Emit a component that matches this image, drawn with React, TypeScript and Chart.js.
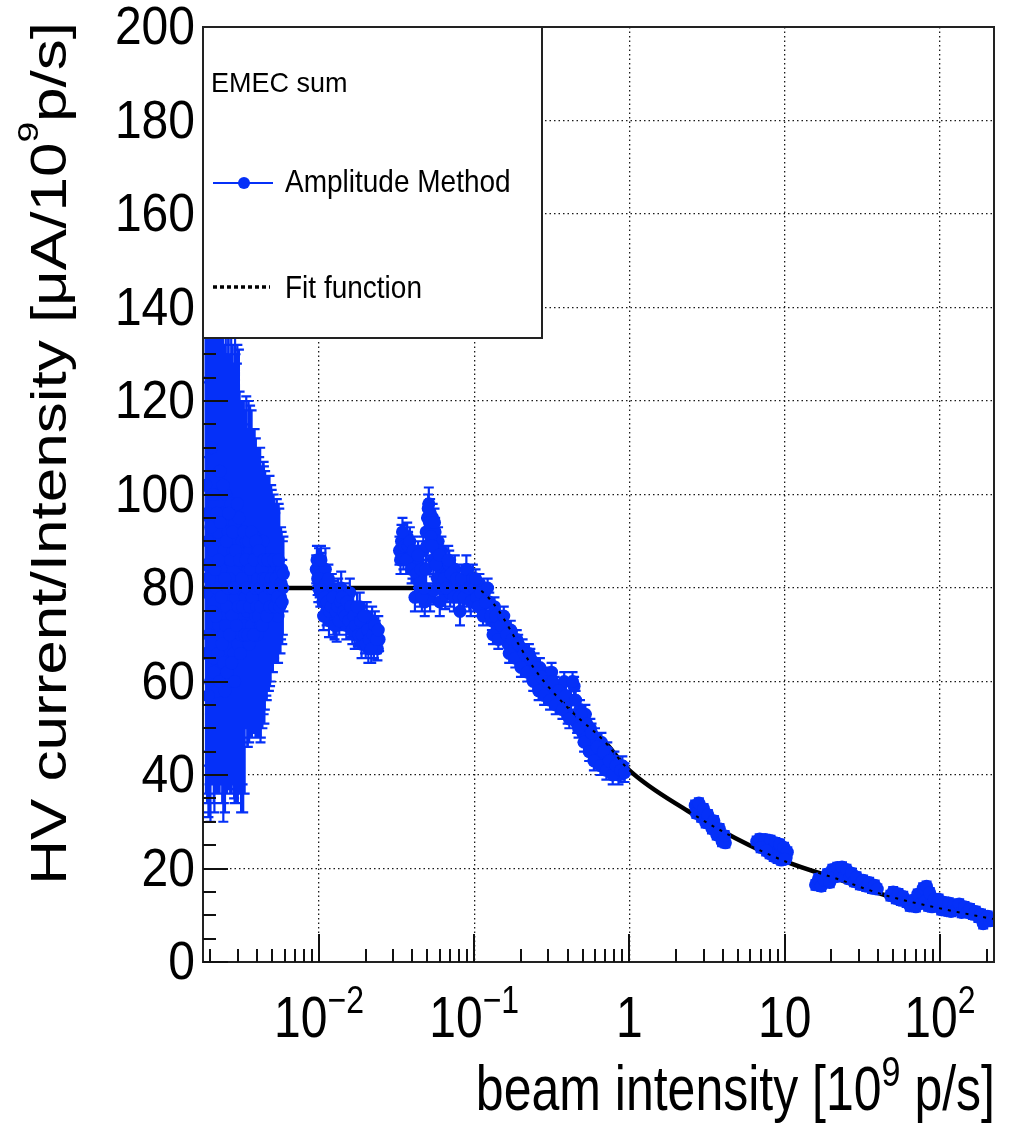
import React, { useEffect, useRef } from 'react';
import { Chart, registerables } from 'chart.js';

Chart.register(...registerables);

const FONT = '"Liberation Sans", Arial, Helvetica, sans-serif';
const W = 1009;
const H = 1124;
const BLUE = '#0530f8';

// Axis ranges and ticks
const X_MIN = 0.00179;
const X_MAX = 223;
const Y_MIN = 0;
const Y_MAX = 200;
const yMajorTicks = [0, 20, 40, 60, 80, 100, 120, 140, 160, 180, 200];
const yMinorStep = 5;
const xDecades = [0.01, 0.1, 1, 10, 100];
const xDecadeLabels: [string, string][] = [['10', '\u22122'], ['10', '\u22121'], ['1', ''], ['10', ''], ['10', '2']];
const xMinorDecades = [0.001, 0.01, 0.1, 1, 10, 100];
const xMinorMultipliers = [2, 3, 4, 5, 6, 7, 8, 9];

// Data: [beam intensity (1e9 p/s), HV current / intensity, error]
const lowIntensityRun: [number, number, number][] = [
  [0.00186, 102, 35], [0.00188, 85, 40], [0.0019, 79, 45], [0.00192, 90, 48], [0.00195, 70, 38],
  [0.00198, 95, 42], [0.002, 60, 30], [0.00203, 110, 30], [0.00206, 75, 35], [0.00209, 88, 46],
  [0.00212, 65, 33], [0.00215, 100, 38], [0.00218, 80, 42], [0.00221, 58, 20], [0.00224, 92, 44],
  [0.00227, 72, 34], [0.0023, 105, 32], [0.00233, 84, 40], [0.00236, 63, 25], [0.00239, 96, 40],
  [0.00242, 70, 40], [0.00245, 88, 44], [0.00248, 58, 26], [0.00251, 100, 36], [0.00254, 76, 38],
  [0.00257, 67, 30], [0.0026, 92, 42], [0.00264, 82, 45], [0.00268, 60, 24], [0.00272, 98, 36],
  [0.00276, 74, 36], [0.0028, 88, 40], [0.00284, 66, 31], [0.00288, 94, 40], [0.00292, 78, 44],
  [0.00296, 86, 42], [0.003, 68, 34], [0.00305, 95, 36], [0.0031, 80, 40], [0.00315, 70, 38],
  [0.0032, 90, 30], [0.00325, 72, 40], [0.0033, 85, 30], [0.00335, 78, 28], [0.0034, 90, 31],
  [0.00345, 75, 29], [0.0035, 84, 30], [0.00355, 68, 21], [0.0036, 88, 31], [0.00365, 80, 28],
  [0.0037, 72, 24], [0.00375, 86, 28], [0.0038, 79, 30], [0.00385, 91, 23], [0.0039, 74, 26],
  [0.00395, 84, 26], [0.004, 70, 22], [0.00405, 88, 22], [0.0041, 78, 28], [0.00415, 83, 24],
  [0.0042, 72, 25], [0.00425, 86, 20], [0.0043, 76, 26], [0.00435, 90, 17], [0.0044, 80, 27],
  [0.00445, 74, 23], [0.0045, 85, 20], [0.00458, 78, 21], [0.00465, 82, 22], [0.00472, 75, 17],
  [0.0048, 84, 20], [0.00488, 79, 19], [0.00496, 86, 15], [0.00505, 76, 14], [0.00515, 82, 17],
  [0.00525, 80, 16], [0.00535, 85, 14], [0.00545, 74, 10], [0.00555, 83, 14], [0.00565, 78, 12],
  [0.00575, 84, 8], [0.00585, 80, 10],
  [0.00187, 66, 30], [0.00191, 96, 40], [0.00194, 57, 26], [0.00197, 82, 44], [0.00201, 93, 36],
  [0.00204, 68, 30], [0.00207, 100, 40], [0.0021, 62, 28], [0.00213, 84, 40], [0.00216, 74, 38],
  [0.0022, 96, 42], [0.00223, 66, 30], [0.00226, 86, 42], [0.00229, 60, 24], [0.00232, 94, 40],
  [0.00235, 78, 40], [0.00238, 68, 34], [0.00241, 102, 34], [0.00244, 64, 30], [0.00247, 82, 42],
  [0.0025, 72, 36], [0.00253, 90, 40], [0.00256, 62, 26], [0.00259, 80, 40], [0.00262, 96, 38],
  [0.00266, 70, 32], [0.0027, 86, 44], [0.00274, 64, 28], [0.00278, 92, 40], [0.00282, 80, 42],
  [0.00286, 60, 26], [0.0029, 88, 42], [0.00294, 72, 36], [0.00298, 98, 34], [0.00302, 76, 40],
  [0.00308, 86, 36], [0.00312, 66, 30], [0.00318, 82, 36], [0.00322, 76, 38], [0.00328, 92, 28],
  [0.00332, 70, 34], [0.00338, 86, 32], [0.00342, 80, 30], [0.00348, 70, 24], [0.00352, 90, 30],
  [0.00358, 76, 28], [0.00362, 84, 34], [0.00368, 92, 26], [0.00372, 78, 28], [0.00378, 70, 21],
  [0.00382, 86, 26], [0.00388, 80, 30], [0.00392, 90, 22], [0.00398, 76, 28], [0.00402, 82, 28],
  [0.00408, 74, 26], [0.00412, 88, 20], [0.00418, 80, 30], [0.00422, 76, 28], [0.00428, 84, 22],
  [0.00432, 72, 22], [0.00438, 82, 24], [0.00442, 86, 20], [0.00448, 78, 24], [0.00454, 82, 22],
  [0.00461, 74, 18], [0.00468, 86, 18], [0.00476, 80, 22], [0.00484, 76, 17], [0.00492, 82, 20],
  [0.005, 80, 18], [0.0051, 86, 14], [0.0052, 76, 12], [0.0053, 82, 16], [0.0054, 78, 14],
  [0.0055, 86, 12], [0.0056, 76, 10], [0.0057, 81, 12], [0.0058, 77, 9], [0.0059, 83, 8],
];

const run2: [number, number, number][] = [
  [0.0096, 84, 3], [0.0098, 82, 3.5], [0.01, 85, 3.5], [0.0102, 79, 3], [0.0104, 83, 4.5],
  [0.0106, 77, 3], [0.0108, 81, 4], [0.011, 84, 4.5], [0.0112, 75, 3], [0.0114, 79, 3.5],
  [0.0116, 73, 3.5], [0.0118, 77, 3], [0.0121, 80, 3], [0.0124, 74, 4], [0.0127, 78, 3],
  [0.013, 72, 3.5], [0.0133, 79, 3], [0.0136, 76, 3.5], [0.0139, 80, 3.5], [0.0142, 74, 3],
  [0.0146, 78, 3], [0.015, 72, 3], [0.0154, 76, 3], [0.0158, 79, 3], [0.0162, 73, 3.5],
  [0.0166, 76, 3], [0.017, 70, 3], [0.0174, 74, 3], [0.0178, 71, 3.5], [0.0183, 76, 3],
  [0.0188, 68, 3], [0.0193, 72, 3], [0.0198, 70, 4], [0.0203, 74, 3], [0.0208, 67, 3],
  [0.0214, 71, 3], [0.022, 73, 3], [0.0226, 68, 3], [0.0232, 70, 3], [0.0238, 67, 2.5],
  [0.0244, 69, 2.5],
  [0.0097, 86, 3], [0.0099, 80, 3], [0.0101, 82, 4], [0.0103, 86, 3], [0.0105, 80, 3.5],
  [0.0107, 74, 3], [0.0109, 78, 3.5], [0.0111, 81, 4], [0.0113, 77, 3], [0.0115, 82, 3],
  [0.0117, 75, 3], [0.012, 76, 3], [0.0123, 78, 3.5], [0.0126, 72, 3], [0.0129, 75, 3],
  [0.0132, 76, 3], [0.0135, 73, 3], [0.0138, 77, 3], [0.0141, 78, 3], [0.0144, 75, 3],
  [0.0148, 74, 3], [0.0152, 77, 3], [0.0156, 73, 3], [0.016, 76, 3], [0.0164, 71, 3],
  [0.0168, 74, 3], [0.0172, 72, 3], [0.0176, 76, 3], [0.018, 70, 3], [0.0185, 73, 3],
  [0.019, 70, 3], [0.0195, 74, 3], [0.02, 68, 3], [0.0206, 71, 3], [0.0211, 69, 3],
  [0.0217, 67, 3], [0.0223, 70, 3], [0.0229, 72, 3], [0.0235, 69, 3], [0.0241, 71, 3],
];

const run3: [number, number, number][] = [
  [0.033, 88, 3], [0.034, 90, 3.5], [0.035, 87, 3], [0.036, 89, 3], [0.037, 91, 3],
  [0.038, 86, 3], [0.039, 88, 3], [0.04, 85, 3], [0.041, 84, 3], [0.042, 86, 3],
  [0.043, 82, 3], [0.044, 85, 3.5], [0.0415, 78, 3], [0.045, 79, 3], [0.048, 77, 3],
  [0.052, 78, 3], [0.055, 79.5, 3], [0.06, 77, 3], [0.065, 78.5, 3], [0.07, 79, 3],
  [0.047, 88, 3], [0.049, 92, 3], [0.05, 95, 3], [0.051, 98, 3.5], [0.052, 96, 3],
  [0.053, 93, 3], [0.054, 95, 3], [0.055, 90, 3], [0.056, 92, 3], [0.057, 88, 3],
  [0.0585, 90, 3], [0.06, 86, 3], [0.0615, 88, 3], [0.063, 84, 3], [0.065, 86, 3],
  [0.067, 83, 3], [0.069, 85, 3], [0.072, 81, 3], [0.075, 84, 3], [0.078, 80, 3],
  [0.081, 75, 3], [0.084, 79, 3], [0.087, 82, 3], [0.09, 80, 3], [0.093, 78, 3],
  [0.096, 81, 3],
  [0.0335, 86, 3], [0.0345, 92, 3], [0.0355, 89, 3], [0.0365, 86, 3], [0.0375, 89, 3],
  [0.0385, 90, 3], [0.0395, 84, 3], [0.0405, 88, 3], [0.0425, 83, 3], [0.0435, 87, 3],
  [0.0445, 81, 3], [0.0455, 84, 3], [0.046, 78, 3], [0.0475, 80, 3], [0.049, 84, 3],
  [0.0495, 89, 3], [0.0505, 97, 3], [0.0515, 94, 3], [0.0525, 91, 3], [0.0535, 89, 3],
  [0.0545, 86, 3], [0.0555, 94, 3], [0.0565, 85, 3], [0.058, 82, 3], [0.0595, 87, 3],
  [0.062, 80, 3], [0.064, 82, 3], [0.066, 80, 3], [0.068, 86, 3], [0.071, 83, 3],
  [0.074, 78, 3], [0.077, 82, 3], [0.08, 78, 3], [0.083, 82, 3], [0.086, 78, 3],
  [0.089, 84, 3], [0.092, 80, 3], [0.095, 77, 3], [0.098, 82, 3],
];

const run4: [number, number, number][] = [
  [0.1, 80, 2], [0.104, 78, 2], [0.108, 81, 2], [0.112, 76, 2], [0.116, 79, 2],
  [0.12, 74, 2], [0.125, 77, 2], [0.13, 73, 2], [0.135, 76, 2], [0.14, 72, 2],
  [0.146, 74, 2], [0.152, 70, 2], [0.158, 72, 2], [0.165, 68, 2], [0.172, 71, 2],
  [0.18, 67, 2], [0.188, 69, 2], [0.196, 65, 2], [0.205, 67, 2], [0.215, 64, 2],
  [0.225, 66, 2], [0.235, 62, 2], [0.245, 64, 2], [0.255, 60, 2], [0.265, 63, 2],
  [0.275, 59, 2], [0.29, 61, 2], [0.3, 57, 2], [0.315, 62, 2], [0.33, 59, 2],
  [0.345, 55, 2], [0.36, 57, 2], [0.38, 60, 2], [0.4, 53, 2], [0.42, 56, 2],
  [0.44, 59, 2], [0.46, 51, 2], [0.48, 54, 2], [0.5, 49, 2], [0.52, 53, 2],
  [0.54, 47, 2], [0.56, 50, 2], [0.58, 45, 2], [0.6, 48, 2], [0.63, 44, 2],
  [0.66, 47, 2], [0.69, 42, 2], [0.72, 45, 2], [0.76, 41, 2], [0.8, 43, 2],
  [0.85, 40, 2], [0.9, 42, 2],
  [0.102, 82, 2], [0.106, 76, 2], [0.11, 79, 2], [0.114, 74, 2], [0.118, 77, 2],
  [0.122, 80, 2], [0.128, 74, 2], [0.132, 70, 2], [0.138, 74, 2], [0.143, 69, 2],
  [0.149, 72, 2], [0.155, 74, 2], [0.162, 70, 2], [0.168, 66, 2], [0.176, 69, 2],
  [0.184, 65, 2], [0.192, 68, 2], [0.2, 63, 2], [0.21, 66, 2], [0.22, 62, 2],
  [0.23, 65, 2], [0.24, 60, 2], [0.25, 63, 2], [0.26, 58, 2], [0.27, 61, 2],
  [0.282, 57, 2], [0.295, 60, 2], [0.308, 56, 2], [0.32, 60, 2], [0.335, 55, 2],
  [0.35, 58, 2], [0.37, 54, 2], [0.39, 57, 2], [0.41, 52, 2], [0.43, 60, 2],
  [0.45, 56, 2], [0.47, 50, 2], [0.49, 53, 2], [0.51, 47, 2], [0.53, 51, 2],
  [0.55, 45, 2], [0.57, 49, 2], [0.59, 43, 2], [0.62, 46, 2], [0.65, 42, 2],
  [0.68, 45, 2], [0.71, 41, 2], [0.74, 43, 2], [0.78, 40, 2], [0.82, 42, 2],
  [0.88, 41, 2], [0.93, 40.5, 2],
];

const run5: [number, number, number][] = [
  [2.65, 33.5, 1], [2.75, 33, 1], [2.85, 32.2, 1], [2.95, 32.5, 1], [3.05, 31, 1],
  [3.15, 30.5, 1], [3.3, 29.8, 1], [3.45, 29, 1], [3.6, 28.2, 1], [3.75, 27.5, 1],
  [3.9, 26.8, 1], [4.05, 26, 1], [4.15, 25.5, 1],
  [2.7, 31.8, 1], [2.8, 34, 1], [2.9, 31, 1], [3.0, 32.8, 1], [3.1, 29.8, 1],
  [3.2, 31.5, 1], [3.4, 28.5, 1], [3.5, 30.2, 1], [3.65, 27.2, 1], [3.8, 28.5, 1],
  [3.95, 25.8, 1], [4.1, 27, 1],
];

const run6: [number, number, number][] = [
  [6.6, 25.8, 1], [6.9, 26.3, 1], [7.2, 25, 1], [7.5, 26.2, 1], [7.8, 24.5, 1],
  [8.1, 26, 1], [8.4, 24.2, 1], [8.7, 25.5, 1], [9.0, 23.5, 1], [9.3, 25.2, 1],
  [9.6, 22.8, 1], [9.9, 24.5, 1], [10.2, 22.2, 1], [10.4, 23.5, 1], [8.0, 23.2, 1],
  [8.5, 22.6, 1], [9.0, 22.2, 1], [9.5, 21.8, 1], [10.0, 22.0, 1], [7.0, 24.5, 1],
  [7.6, 23.8, 1],
];

const run7: [number, number, number][] = [
  [15.8, 16.5, 1], [16.5, 17.8, 1], [17.2, 16.2, 1], [18, 17.5, 1], [18.8, 18.8, 1],
  [19.5, 17, 1], [20.3, 19.8, 1], [21, 18.2, 1], [21.8, 20.2, 1], [22.6, 18.6, 1],
  [23.4, 20.3, 1], [24.2, 18.3, 1], [25, 19.8, 1], [26, 17.8, 1], [27, 19, 1],
  [28, 17.2, 1], [29, 18.2, 1], [30.5, 16.6, 1], [32, 17.5, 1], [33.5, 16.2, 1],
  [35, 17, 1], [36.5, 15.8, 1], [38, 16.4, 1], [39.5, 15.6, 1],
];

const run8: [number, number, number][] = [
  [48, 14.2, 1], [50, 15, 1], [52, 13.6, 1], [54, 14.6, 1], [56, 13.2, 1],
  [58, 14, 1], [61, 12.8, 1], [64, 12, 1], [67, 13.2, 1], [70, 11.8, 1],
  [72, 14.5, 1], [75, 12.5, 1], [78, 15.8, 1], [80, 13, 1], [82, 16.2, 1],
  [84, 12, 1], [86, 14.8, 1], [89, 11.8, 1], [92, 13.5, 1], [95, 12, 1],
  [98, 13.4, 1], [102, 11.2, 1], [106, 12.8, 1], [110, 11, 1], [114, 12.6, 1],
  [118, 10.8, 1], [123, 12.2, 1], [128, 11.2, 1], [133, 12.4, 1], [138, 10.6, 1],
  [144, 11.8, 1], [150, 10.6, 1], [156, 11.4, 1], [163, 10.2, 1], [170, 10.8, 1],
  [177, 9.6, 1], [184, 10.2, 1], [190, 8.2, 1], [196, 9.4, 1], [203, 9.8, 1],
  [210, 8.8, 1], [216, 9.2, 1],
];

// Fit function
const fitX = [0.00179, 0.1, 0.132, 0.219, 0.277, 0.414, 0.675, 1.0, 2.38, 4.79, 10.3, 21.7, 46.3, 106, 219];
const fitY = [80, 80, 76.8, 65, 60.3, 53.9, 47.5, 41, 32.3, 26.5, 21.4, 17.8, 14.1, 11.3, 9.2];

const allPoints = [...lowIntensityRun, ...run2, ...run3, ...run4, ...run5, ...run6, ...run7, ...run8];

type Part = { t: string; sup?: boolean };

// draws rich text with baseline at (0,0) in the current transform
function drawRich(ctx: CanvasRenderingContext2D, parts: Part[], x: number, size: number, supSize: number, supRise: number, align: 'left' | 'right' | 'center') {
  const widths = parts.map((p) => {
    ctx.font = `${p.sup ? supSize : size}px ${FONT}`;
    return ctx.measureText(p.t).width;
  });
  const total = widths.reduce((a, b) => a + b, 0);
  let cx = align === 'left' ? x : align === 'right' ? x - total : x - total / 2;
  ctx.textAlign = 'left';
  ctx.textBaseline = 'alphabetic';
  parts.forEach((p, i) => {
    ctx.font = `${p.sup ? supSize : size}px ${FONT}`;
    ctx.fillText(p.t, cx, p.sup ? -supRise : 0);
    cx += widths[i];
  });
}

function textAt(ctx: CanvasRenderingContext2D, x: number, y: number, sx: number, sy: number, fn: () => void) {
  ctx.save();
  ctx.translate(x, y);
  ctx.scale(sx, sy);
  fn();
  ctx.restore();
}

const rootPlugin = {
  id: 'rootStyle',
  beforeDatasetDraw(chart: any, args: any) {
    if (args.index !== 1) return;
    const { ctx, chartArea: a } = chart;
    const xs = chart.scales.x;
    const ys = chart.scales.y;
    ctx.save();
    ctx.beginPath();
    ctx.rect(a.left, a.top, a.right - a.left, a.bottom - a.top);
    ctx.clip();
    ctx.strokeStyle = BLUE;
    ctx.lineWidth = 2.2;
    ctx.beginPath();
    for (const [x, y, e] of allPoints) {
      const px = xs.getPixelForValue(x);
      const y1 = ys.getPixelForValue(y - e);
      const y2 = ys.getPixelForValue(y + e);
      ctx.moveTo(px, y1);
      ctx.lineTo(px, y2);
      ctx.moveTo(px - 5, y1);
      ctx.lineTo(px + 5, y1);
      ctx.moveTo(px - 5, y2);
      ctx.lineTo(px + 5, y2);
    }
    ctx.stroke();
    ctx.restore();
  },
  afterDraw(chart: any) {
    const { ctx, chartArea: a } = chart;
    const xs = chart.scales.x;
    const ys = chart.scales.y;
    ctx.save();

    // frame
    ctx.strokeStyle = '#222';
    ctx.lineWidth = 2;
    ctx.strokeRect(a.left, a.top, a.right - a.left, a.bottom - a.top);

    // y ticks
    ctx.strokeStyle = '#111';
    ctx.lineWidth = 2;
    ctx.beginPath();
    for (let v = Y_MIN; v <= Y_MAX; v += yMinorStep) {
      const py = Math.round(ys.getPixelForValue(v));
      const len = v % 20 === 0 ? 25 : 13;
      ctx.moveTo(a.left, py);
      ctx.lineTo(a.left + len, py);
    }
    // x ticks
    for (const d of xMinorDecades) {
      for (const m of xMinorMultipliers) {
        const v = d * m;
        if (v < X_MIN || v > X_MAX) continue;
        const px = Math.round(xs.getPixelForValue(v));
        ctx.moveTo(px, a.bottom);
        ctx.lineTo(px, a.bottom - 13);
      }
    }
    for (const d of xDecades) {
      const px = Math.round(xs.getPixelForValue(d));
      ctx.moveTo(px, a.bottom);
      ctx.lineTo(px, a.bottom - 28);
    }
    ctx.stroke();

    ctx.fillStyle = '#000';
    // y tick labels
    for (const v of yMajorTicks) {
      textAt(ctx, a.left - 8, ys.getPixelForValue(v) + 17, 1, 1.1, () => {
        ctx.font = `48px ${FONT}`;
        ctx.textAlign = 'right';
        ctx.textBaseline = 'alphabetic';
        ctx.fillText(String(v), 0, 0);
      });
    }
    // x tick labels
    xDecades.forEach((d, i) => {
      const [base, exp] = xDecadeLabels[i];
      const parts: Part[] = [{ t: base }];
      if (exp) parts.push({ t: exp, sup: true });
      textAt(ctx, xs.getPixelForValue(d), 1037, 1, 1.2, () => drawRich(ctx, parts, 0, 48, 32, 20, 'center'));
    });

    // axis titles
    textAt(ctx, 995, 1110, 1, 1.25, () =>
      drawRich(ctx, [{ t: 'beam intensity [10' }, { t: '9', sup: true }, { t: ' p/s]' }], 0, 50, 34, 19, 'right'),
    );
    ctx.save();
    ctx.translate(66, 22);
    ctx.rotate(-Math.PI / 2);
    ctx.scale(1.24, 1);
    drawRich(ctx, [{ t: 'HV current/Intensity [\u03bcA/10' }, { t: '9', sup: true }, { t: 'p/s]' }], 0, 50, 30, 28, 'right');
    ctx.restore();

    // legend
    const lx = a.left, ly = a.top, lw = 339, lh = 311;
    ctx.fillStyle = '#fff';
    ctx.fillRect(lx, ly, lw, lh);
    ctx.strokeStyle = '#222';
    ctx.lineWidth = 2;
    ctx.strokeRect(lx, ly, lw, lh);
    ctx.fillStyle = '#000';
    textAt(ctx, 211, 92, 1, 1.05, () => {
      ctx.font = `27px ${FONT}`;
      ctx.textAlign = 'left';
      ctx.textBaseline = 'alphabetic';
      ctx.fillText('EMEC sum', 0, 0);
    });
    textAt(ctx, 285, 192, 1, 1.15, () => {
      ctx.font = `28px ${FONT}`;
      ctx.textAlign = 'left';
      ctx.textBaseline = 'alphabetic';
      ctx.fillText(chart.data.datasets[1].label, 0, 0);
    });
    textAt(ctx, 285, 298, 1, 1.15, () => {
      ctx.font = `28px ${FONT}`;
      ctx.textAlign = 'left';
      ctx.textBaseline = 'alphabetic';
      ctx.fillText(chart.data.datasets[2].label, 0, 0);
    });
    ctx.strokeStyle = BLUE;
    ctx.lineWidth = 2;
    ctx.beginPath();
    ctx.moveTo(213, 183);
    ctx.lineTo(273, 183);
    ctx.stroke();
    ctx.fillStyle = BLUE;
    ctx.beginPath();
    ctx.arc(244, 183, 6, 0, Math.PI * 2);
    ctx.fill();
    ctx.strokeStyle = '#000';
    ctx.lineWidth = 3.5;
    ctx.setLineDash([4, 3]);
    ctx.beginPath();
    ctx.moveTo(213, 287);
    ctx.lineTo(270, 287);
    ctx.stroke();
    ctx.setLineDash([]);
    ctx.restore();
  },
};

export default function App() {
  const ref = useRef<HTMLCanvasElement | null>(null);
  useEffect(() => {
    if (!ref.current) return;
    const fitData = fitX.map((x, i) => ({ x, y: fitY[i] }));
    const chart = new Chart(ref.current, {
      type: 'scatter',
      data: {
        datasets: [
          {
            type: 'line',
            label: 'fit',
            data: fitData,
            borderColor: '#000',
            borderWidth: 4.5,
            pointRadius: 0,
            showLine: true,
            fill: false,
            cubicInterpolationMode: 'monotone',
            order: 3,
          } as any,
          {
            type: 'scatter',
            label: 'Amplitude Method',
            data: allPoints.map(([x, y]) => ({ x, y })),
            pointRadius: 6.5,
            pointBackgroundColor: BLUE,
            pointBorderWidth: 0,
            pointBorderColor: BLUE,
            order: 2,
          } as any,
          {
            type: 'line',
            label: 'Fit function',
            data: fitData,
            borderColor: '#000',
            borderWidth: 2,
            borderDash: [3, 6],
            pointRadius: 0,
            showLine: true,
            fill: false,
            cubicInterpolationMode: 'monotone',
            order: 1,
          } as any,
        ],
      },
      options: {
        responsive: false,
        animation: false,
        devicePixelRatio: 1,
        events: [],
        layout: { padding: { top: 27, right: 15, left: 0, bottom: 0 } },
        plugins: { legend: { display: false }, tooltip: { enabled: false } },
        scales: {
          x: {
            type: 'logarithmic',
            min: X_MIN,
            max: X_MAX,
            afterBuildTicks: (s: any) => {
              s.ticks = xDecades.map((v) => ({ value: v }));
            },
            afterFit: (s: any) => {
              s.height = 162;
            },
            ticks: { display: false },
            grid: { color: '#1a1a1a', lineWidth: 1.3, drawTicks: false },
            border: { display: false, dash: [1.5, 3] },
          },
          y: {
            type: 'linear',
            min: Y_MIN,
            max: Y_MAX,
            ticks: { display: false, stepSize: 20 },
            afterFit: (s: any) => {
              s.width = 203;
            },
            grid: { color: '#1a1a1a', lineWidth: 1.3, drawTicks: false },
            border: { display: false, dash: [1.5, 3] },
          },
        },
      } as any,
      plugins: [rootPlugin as any],
    });
    return () => chart.destroy();
  }, []);
  return (
    <div style={{ position: 'absolute', left: 0, top: 0, width: W, height: H, background: '#fff' }}>
      <canvas ref={ref} width={W} height={H} style={{ width: W, height: H, display: 'block' }} />
    </div>
  );
}
